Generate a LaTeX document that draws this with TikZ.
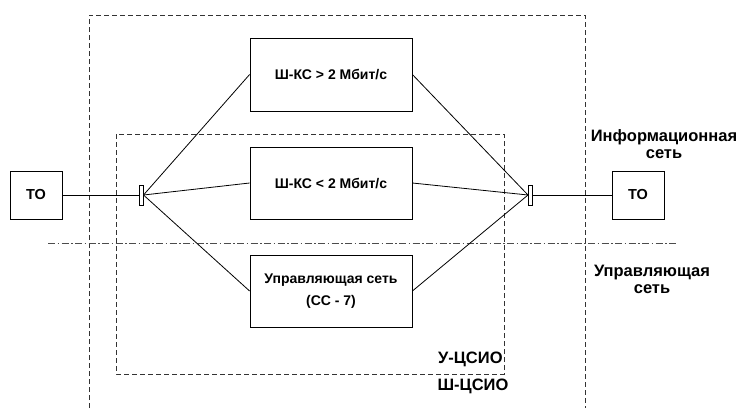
\documentclass[tikz,border=0pt]{standalone}
\usepackage{fontspec}
\setmainfont{Liberation Sans}
\begin{document}
\begin{tikzpicture}[x=1pt, y=-1pt, line width=0.8pt,
  font=\bfseries\fontsize{14}{16}\selectfont,
  box/.style={draw, minimum width=162, minimum height=73, inner sep=0pt, align=center},
  tobox/.style={draw, minimum width=52, minimum height=48, inner sep=0pt,
    font=\bfseries\fontsize{14.5}{16}\selectfont},
  bar/.style={draw, line width=1pt, minimum width=4, minimum height=20, inner sep=0pt},
  zone/.style={draw=black!80, line width=0.9pt, dash pattern=on 5pt off 3pt},
  border/.style={draw=black!70, line width=0.9pt, dash pattern=on 7pt off 2.5pt on 1.5pt off 2.5pt},
  lbl/.style={align=center, inner sep=0pt, font=\bfseries\fontsize{16.5}{17}\selectfont}]
\useasboundingbox (0,0) rectangle (741,408);
% zones
\draw[zone] (89,408) -- (89,15) -- (585,15) -- (585,408);
\draw[zone] (116,134) rectangle (504,374);
\draw[border] (48,243) -- (678,243);
% terminals and bars
\node[tobox] (lto) at (36,195) {ТО};
\node[tobox] (rto) at (638,195) {ТО};
\node[bar] (lbar) at (141,195) {};
\node[bar] (rbar) at (530.5,195) {};
% channels
\node[box] (wide) at (331,74.5) {Ш-КС > 2 Мбит/с};
\node[box, minimum height=72] (narrow) at (331,183) {Ш-КС < 2 Мбит/с};
\node[box, minimum height=72] (ctrl) at (331,291) {Управляющая сеть\\[6pt](СС - 7)};
\draw (lto.east) -- (lbar.west);
\draw (rbar.east) -- (rto.west);
\foreach \n in {wide, narrow, ctrl}
  \draw (lbar.east) -- (\n.west) (\n.east) -- (rbar.west);
% labels
\node[lbl] (info) at (664,144) {Информационная\\сеть};
\node[lbl] (upr) at (652,279) {Управляющая\\сеть};
\node[lbl, anchor=east] (ucs) at (503,359) {У-ЦСИО};
\node[lbl] (wcs) at (473,386) {Ш-ЦСИО};
\end{tikzpicture}
\end{document}
